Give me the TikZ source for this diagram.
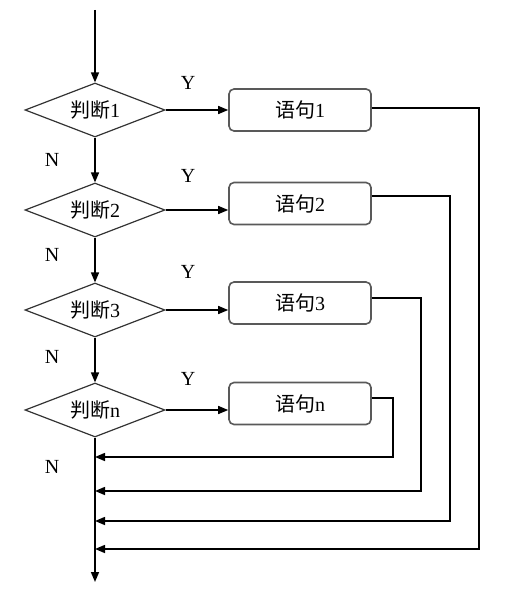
\documentclass[tikz,border=0pt]{standalone}
\usepackage{fontspec}
\setmainfont{Liberation Serif}
\newfontfamily\cjk{Noto Sans CJK SC}
\usetikzlibrary{shapes.geometric,arrows.meta}
\begin{document}
\begin{tikzpicture}[x=1pt,y=-1pt,
  every node/.style={font=\fontsize{20}{22}\selectfont},
  dec/.style={diamond, draw=black!80, line width=1.2pt, aspect=2.6, inner sep=0pt,
    minimum width=140pt, minimum height=54pt},
  stm/.style={rectangle, rounded corners=5pt, draw=black!65, line width=1.6pt,
    minimum width=142pt, minimum height=42pt, inner sep=0pt},
  conn/.style={line width=1.5pt},
  arr/.style={conn, -{Triangle[length=10pt,width=8pt]}},
  lab/.style={inner sep=0pt}]
\useasboundingbox (0,0) rectangle (515,593);
\coordinate (start) at (95,10);
\node[dec] (d1) at (95,110) {{\cjk 判断}1};
\node[dec] (d2) at (95,210) {{\cjk 判断}2};
\node[dec] (d3) at (95,310) {{\cjk 判断}3};
\node[dec] (d4) at (95,410) {{\cjk 判断}n};
\node[stm] (s1) at (300,110) {{\cjk 语句}1};
\node[stm] (s2) at (300,203.5) {{\cjk 语句}2};
\node[stm] (s3) at (300,303) {{\cjk 语句}3};
\node[stm] (s4) at (300,403.5) {{\cjk 语句}n};
\coordinate (end) at (95,582);
% main flow
\draw[arr] (start) -- (d1.north);
\draw[arr] (d1.south) -- (d2.north);
\draw[arr] (d2.south) -- (d3.north);
\draw[arr] (d3.south) -- (d4.north);
\draw[arr] (d4.south) -- (end);
% yes branches
\draw[arr] (d1.east) -- (d1.east -| s1.west);
\draw[arr] (d2.east) -- (d2.east -| s2.west);
\draw[arr] (d3.east) -- (d3.east -| s3.west);
\draw[arr] (d4.east) -- (d4.east -| s4.west);
% returns
\coordinate (r1) at (479,549);
\coordinate (r2) at (450,521);
\coordinate (r3) at (421,491);
\coordinate (r4) at (393,457);
\draw[arr] (s1.east |- 0,108) -- (r1 |- 0,108) -- (r1) -- (r1 -| start);
\draw[arr] (s2.east |- 0,196) -- (r2 |- 0,196) -- (r2) -- (r2 -| start);
\draw[arr] (s3.east |- 0,298) -- (r3 |- 0,298) -- (r3) -- (r3 -| start);
\draw[arr] (s4.east |- 0,398) -- (r4 |- 0,398) -- (r4) -- (r4 -| start);
% labels
\node[lab] (y1) at (188,83) {Y};
\node[lab] (y2) at (188,176) {Y};
\node[lab] (y3) at (188,272) {Y};
\node[lab] (y4) at (188,379) {Y};
\node[lab] (n1) at (52,160) {N};
\node[lab] (n2) at (52,255) {N};
\node[lab] (n3) at (52,357) {N};
\node[lab] (n4) at (52,467) {N};
\end{tikzpicture}
\end{document}
